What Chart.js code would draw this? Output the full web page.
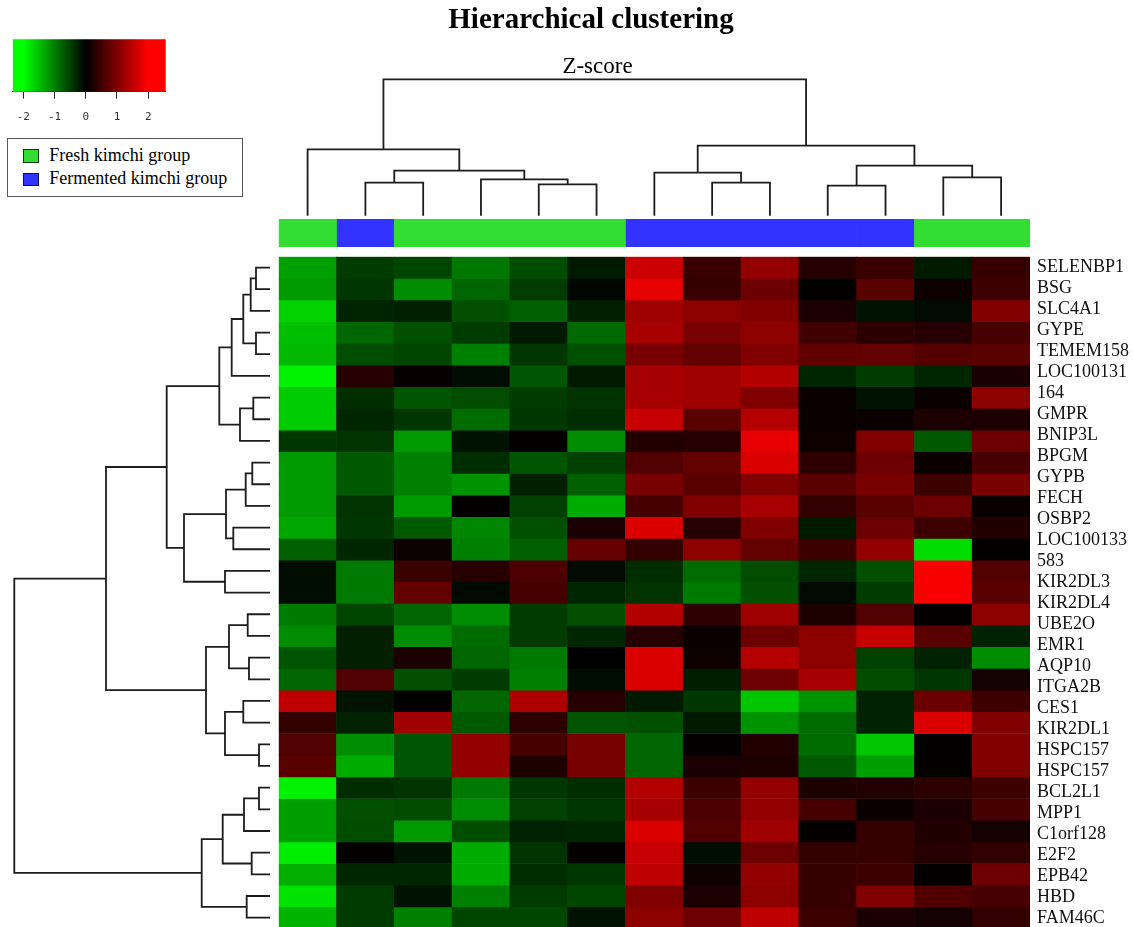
<!DOCTYPE html>
<html>
<head>
<meta charset="utf-8">
<script src="https://cdn.jsdelivr.net/npm/chart.js@4.4.1/dist/chart.umd.min.js"></script>
<style>
  html, body { margin: 0; padding: 0; background: #fff; }
  body { width: 1133px; height: 927px; overflow: hidden; position: relative; }
  canvas { position: absolute; }
  .txt { position: absolute; white-space: nowrap; color: #000; font-family: "Liberation Serif", "Times New Roman", serif; }
  #title { left: 0; width: 1182px; top: 4px; text-align: center; font-size: 29px; line-height: 29px; font-weight: bold; }
  #zlab { left: 0; width: 1195px; top: 54px; text-align: center; font-size: 23px; line-height: 23px; }
  #legend { position: absolute; left: 6.7px; top: 137.7px; width: 236px; height: 59px; box-sizing: border-box; border: 1px solid #555; background: #fff; }
  #legend .sq { position: absolute; left: 15px; width: 16.6px; height: 13.6px; box-sizing: border-box; border: 1.5px solid rgba(0,0,0,0.75); }
  #legend .lt { position: absolute; left: 41.6px; font-size: 18px; line-height: 18px; font-family: "Liberation Serif", serif; color: #000; white-space: nowrap; }
</style>
</head>
<body>
<canvas id="rowDendro" width="279" height="955" style="left:0;top:0;width:279px;height:955px"></canvas>
<canvas id="colDendro" width="1133" height="220" style="left:0;top:0;width:1133px;height:220px"></canvas>
<canvas id="strip" width="1133" height="28" style="left:0;top:219.3px;width:1133px;height:28px"></canvas>
<canvas id="heat" width="1133" height="955" style="left:0;top:0;width:1133px;height:955px"></canvas>
<canvas id="key" width="250" height="130" style="left:0;top:0;width:250px;height:130px"></canvas>
<div id="title" class="txt">Hierarchical clustering</div>
<div id="zlab" class="txt">Z-score</div>
<div id="legend"></div>
<script>
// ---------------- DATA ----------------
const chartTitle = 'Hierarchical clustering';
const keyLabel = 'Z-score';

// Samples (columns, dendrogram order) and their groups
const colIds = ['C1','C2','C3','C4','C5','C6','C7','C8','C9','C10','C11','C12','C13'];
const groupNames = ['Fresh kimchi group', 'Fermented kimchi group'];
const groupColors = ['#33dd33', '#3333ff'];
const columnGroup = [0, 1, 0, 0, 0, 0, 1, 1, 1, 1, 1, 0, 0];

// Gene labels printed on the right (as in the figure)
const rowLabels = ['SELENBP1','BSG','SLC4A1','GYPE','TEMEM158','LOC100131','164','GMPR','BNIP3L','BPGM',
  'GYPB','FECH','OSBP2','LOC100133','583','KIR2DL3','KIR2DL4','UBE2O','EMR1','AQP10','ITGA2B','CES1',
  'KIR2DL1','HSPC157','HSPC157','BCL2L1','MPP1','C1orf128','E2F2','EPB42','HBD','FAM46C'];

// Z-scores, one list per heatmap row (top to bottom), 13 columns each
const zScores = [
  [-1.25,-0.47,-0.55,-0.94,-0.60,-0.20, 1.60, 0.45, 1.15, 0.30, 0.45,-0.20, 0.43],
  [-1.20,-0.43,-1.10,-0.80,-0.47,-0.05, 1.80, 0.43, 0.85, 0.03, 0.70, 0.10, 0.47],
  [-1.65,-0.28,-0.25,-0.63,-0.75,-0.25, 1.25, 1.10, 1.00, 0.20,-0.15,-0.08, 1.00],
  [-1.50,-0.80,-0.63,-0.47,-0.20,-0.82, 1.30, 0.95, 1.10, 0.50, 0.35, 0.30, 0.55],
  [-1.45,-0.60,-0.55,-1.00,-0.43,-0.63, 0.95, 0.78, 1.00, 0.75, 0.78, 0.67, 0.70],
  [-1.90, 0.30, 0.05,-0.10,-0.67,-0.20, 1.30, 1.25, 1.40,-0.30,-0.47,-0.30, 0.20],
  [-1.60,-0.35,-0.67,-0.60,-0.47,-0.40, 1.30, 1.25, 1.00, 0.08,-0.15, 0.08, 1.10],
  [-1.60,-0.30,-0.43,-0.85,-0.43,-0.35, 1.55, 0.70, 1.40, 0.08, 0.08, 0.23, 0.20],
  [-0.43,-0.40,-1.20,-0.15, 0.02,-1.10, 0.27, 0.30, 1.80, 0.12, 1.00,-0.70, 0.85],
  [-1.20,-0.70,-1.00,-0.35,-0.67,-0.50, 0.63, 0.78, 1.72, 0.35, 0.85, 0.08, 0.55],
  [-1.20,-0.70,-1.00,-1.15,-0.25,-0.75, 0.95, 0.70, 1.00, 0.70, 0.95, 0.47, 0.95],
  [-1.20,-0.40,-1.20, 0.02,-0.50,-1.35, 0.55, 1.00, 1.30, 0.40, 0.70, 0.85, 0.08],
  [-1.30,-0.43,-0.70,-1.05,-0.63, 0.20, 1.72, 0.30, 1.00,-0.20, 0.85, 0.47, 0.27],
  [-0.75,-0.30, 0.10,-1.00,-0.75, 0.80, 0.40, 1.10, 0.78, 0.47, 1.15,-1.72, 0.02],
  [-0.10,-0.95, 0.45, 0.30, 0.60,-0.08,-0.35,-0.85,-0.60,-0.30,-0.63, 1.95, 0.63],
  [-0.10,-0.95, 0.78,-0.08, 0.55,-0.30,-0.40,-0.95,-0.63,-0.08,-0.47, 1.95, 0.70],
  [-0.95,-0.55,-0.80,-1.10,-0.47,-0.63, 1.40, 0.35, 1.25, 0.23, 0.63, 0.03, 1.10],
  [-1.10,-0.25,-1.10,-0.85,-0.47,-0.30, 0.30, 0.08, 0.85, 1.10, 1.55, 0.70,-0.27],
  [-0.67,-0.25, 0.20,-0.80,-0.95, 0.00, 1.72, 0.12, 1.40, 1.10,-0.50,-0.27,-1.10],
  [-0.80, 0.63,-0.63,-0.47,-1.00,-0.10, 1.72,-0.23, 0.85, 1.30,-0.60,-0.43, 0.15],
  [ 1.50,-0.15, 0.02,-0.80, 1.35, 0.30,-0.20,-0.43,-1.55,-1.15,-0.27, 0.85, 0.47],
  [ 0.40,-0.27, 1.25,-0.70, 0.35,-0.67,-0.63,-0.20,-1.15,-0.85,-0.27, 1.72, 1.00],
  [ 0.63,-1.10,-0.67, 1.15, 0.55, 0.95,-0.80, 0.03, 0.27,-0.85,-1.55, 0.02, 1.00],
  [ 0.70,-1.35,-0.67, 1.15, 0.23, 0.95,-0.80, 0.20, 0.23,-0.70,-1.25, 0.02, 1.00],
  [-1.90,-0.35,-0.40,-0.95,-0.43,-0.35, 1.40, 0.47, 1.15, 0.23, 0.27, 0.35, 0.47],
  [-1.25,-0.63,-0.60,-1.10,-0.50,-0.43, 1.30, 0.60, 1.15, 0.55, 0.08, 0.20, 0.55],
  [-1.25,-0.60,-1.20,-0.60,-0.27,-0.30, 1.72, 0.63, 1.25, 0.03, 0.43, 0.27, 0.15],
  [-1.85, 0.02,-0.15,-1.35,-0.40, 0.02, 1.55,-0.10, 0.85, 0.40, 0.43, 0.30, 0.40],
  [-1.37,-0.30,-0.30,-1.35,-0.35,-0.43, 1.50, 0.12, 1.15, 0.43, 0.47, 0.03, 0.85],
  [-1.78,-0.47,-0.15,-1.00,-0.47,-0.55, 1.00, 0.20, 1.10, 0.43, 1.00, 0.63, 0.55],
  [-1.40,-0.47,-1.00,-0.55,-0.55,-0.15, 1.10, 0.85, 1.50, 0.47, 0.20, 0.15, 0.40]
];

// Row dendrogram (hclust-style merge list: negative = leaf row index+1) and merge heights
const rowMerge = [[-1,-2],[1,-3],[-4,-5],[2,3],[4,-6],[-7,-8],[6,-9],[5,7],[-10,-11],[9,-12],
  [-13,-14],[10,11],[-15,-16],[12,13],[8,14],[-17,-18],[-19,-20],[16,17],[-21,-22],[-23,-24],
  [19,20],[18,21],[15,22],[-25,-26],[24,-27],[-28,-29],[25,26],[-30,-31],[27,28],[23,29]];
const rowHeight = [14,19.3,14,26.7,38.3,16.7,30,50.7,17.7,24.3,36.7,44,45,86,103.3,22.3,21,41,26.7,11,
  45,64,164,11,26,18.3,47.3,23.3,68.3,255.7];

// Column dendrogram
const colMerge = [[-2,-3],[-5,-6],[-4,2],[1,3],[-1,4],[-8,-9],[-7,6],[-10,-11],[-12,-13],[8,9],[7,10],[5,11]];
const colHeight = [33,31.4,36.4,45,66.4,33,43,30,38.4,50,70,136.4];

// Colour key
const keyMin = -2.34, keyMax = 2.56;
const keyTicks = [-2, -1, 0, 1, 2];

// ---------------- HELPERS ----------------
function zColor(v) {
  const t = Math.min(1, Math.abs(v) / 2);
  const c = Math.round(255 * t);
  return v < 0 ? `rgb(0,${c},0)` : `rgb(${c},0,0)`;
}
function dendroSegments(merge, height) {
  const pos = [], segs = [];
  const info = id => id < 0 ? { p: -id - 1 + 0.5, h: 0 } : { p: pos[id - 1], h: height[id - 1] };
  merge.forEach(([a, b], i) => {
    const A = info(a), B = info(b), h = height[i];
    pos[i] = (A.p + B.p) / 2;
    segs.push([[A.h, A.p], [h, A.p], [h, B.p], [B.h, B.p]]);
  });
  return segs;
}
const lineStyle = { showLine: true, borderColor: '#1c1c1c', borderWidth: 1.8, pointRadius: 0, clip: false, fill: false };
const baseOpts = { responsive: false, animation: false, events: [], devicePixelRatio: 1,
  plugins: { legend: { display: false }, tooltip: { enabled: false }, title: { display: false } } };

document.getElementById('title').textContent = chartTitle;
document.getElementById('zlab').textContent = keyLabel;

// ---------------- ROW DENDROGRAM ----------------
new Chart(document.getElementById('rowDendro'), {
  type: 'scatter',
  data: { datasets: dendroSegments(rowMerge, rowHeight).map(s => Object.assign({
    data: s.map(([h, p]) => ({ x: h, y: p })) }, lineStyle)) },
  options: Object.assign({}, baseOpts, {
    layout: { padding: { left: 14.3, right: 9, top: 256.7, bottom: 26.5 } },
    scales: {
      x: { type: 'linear', display: false, reverse: true, min: 0, max: rowHeight[rowHeight.length - 1] },
      y: { type: 'linear', display: false, reverse: true, min: 0, max: zScores.length }
    }
  })
});

// ---------------- COLUMN DENDROGRAM ----------------
new Chart(document.getElementById('colDendro'), {
  type: 'scatter',
  data: { datasets: dendroSegments(colMerge, colHeight).map(s => Object.assign({
    data: s.map(([h, p]) => ({ x: p, y: h })) }, lineStyle)) },
  options: Object.assign({}, baseOpts, {
    layout: { padding: { left: 278.7, right: 103, top: 79.3, bottom: 4.3 } },
    scales: {
      x: { type: 'linear', display: false, min: 0, max: colIds.length },
      y: { type: 'linear', display: false, min: 0, max: colHeight[colHeight.length - 1] }
    }
  })
});

// ---------------- GROUP STRIP ----------------
new Chart(document.getElementById('strip'), {
  type: 'bar',
  data: {
    labels: colIds,
    datasets: groupNames.map((g, gi) => ({
      label: g,
      data: columnGroup.map(c => c === gi ? [0, 1] : null),
      backgroundColor: groupColors[gi], borderWidth: 0,
      barPercentage: 1, categoryPercentage: 1, grouped: false
    }))
  },
  options: Object.assign({}, baseOpts, {
    layout: { padding: { left: 278.7, right: 103, top: 0, bottom: 0 } },
    scales: { x: { display: false }, y: { display: false, min: 0, max: 1 } }
  })
});

// ---------------- HEATMAP ----------------
new Chart(document.getElementById('heat'), {
  type: 'bar',
  data: {
    labels: colIds,
    datasets: zScores.map((row, r) => ({
      label: 'row ' + (r + 1),
      data: row.map(() => [r, r + 1]),
      backgroundColor: row.map(zColor),
      borderWidth: 0, barPercentage: 1, categoryPercentage: 1, grouped: false, yAxisID: 'y'
    }))
  },
  options: Object.assign({}, baseOpts, {
    layout: { padding: { left: 278.7, right: 0, top: 256.7, bottom: 26.5 } },
    scales: {
      x: { display: false },
      y: { type: 'linear', display: false, min: 0, max: zScores.length, reverse: true },
      yLab: {
        type: 'category', labels: rowLabels, position: 'right', offset: true,
        grid: { display: false, drawTicks: false }, border: { display: false },
        ticks: { autoSkip: false, padding: 7, color: '#111',
          font: { family: 'Liberation Serif', size: 18 } },
        afterFit: s => { s.width = 103; }
      }
    }
  })
});

// ---------------- COLOUR KEY ----------------
new Chart(document.getElementById('key'), {
  type: 'bar',
  data: {
    labels: [keyLabel],
    datasets: [{
      data: [[keyMin, keyMax]],
      backgroundColor: (ctx) => {
        const ch = ctx.chart;
        if (!ch.chartArea) return '#000';
        const xs = ch.scales.x;
        const lo = keyTicks[0], hi = keyTicks[keyTicks.length - 1];
        const g = ch.ctx.createLinearGradient(xs.getPixelForValue(lo), 0, xs.getPixelForValue(hi), 0);
        g.addColorStop(0, zColor(lo));
        g.addColorStop(0.5, zColor(0));
        g.addColorStop(1, zColor(hi));
        return g;
      },
      borderWidth: 0, barPercentage: 1, categoryPercentage: 1
    }]
  },
  options: Object.assign({}, baseOpts, {
    indexAxis: 'y',
    layout: { padding: { left: 12.7, right: 84.3, top: 39.3, bottom: 8.3 } },
    scales: {
      x: {
        type: 'linear', min: keyMin, max: keyMax, position: 'bottom',
        grid: { display: true, drawOnChartArea: false, drawTicks: true, tickLength: 7, color: '#222', lineWidth: 1 },
        border: { display: true, color: '#222', width: 1 },
        ticks: { color: '#333', padding: 12, font: { family: 'DejaVu Sans Mono', size: 11 },
          callback: v => String(v) },
        afterBuildTicks: s => { s.ticks = keyTicks.map(v => ({ value: v })); },
        afterFit: s => { s.height = 30; }
      },
      y: { display: false }
    }
  })
});

// ---------------- GROUP LEGEND ----------------
const legend = document.getElementById('legend');
groupNames.forEach((g, i) => {
  const sq = document.createElement('div');
  sq.className = 'sq';
  sq.style.top = (10.6 + i * 23.4) + 'px';
  sq.style.background = groupColors[i];
  legend.appendChild(sq);
  const t = document.createElement('div');
  t.className = 'lt';
  t.style.top = (7.2 + i * 23) + 'px';
  t.textContent = g;
  legend.appendChild(t);
});
</script>
</body>
</html>
